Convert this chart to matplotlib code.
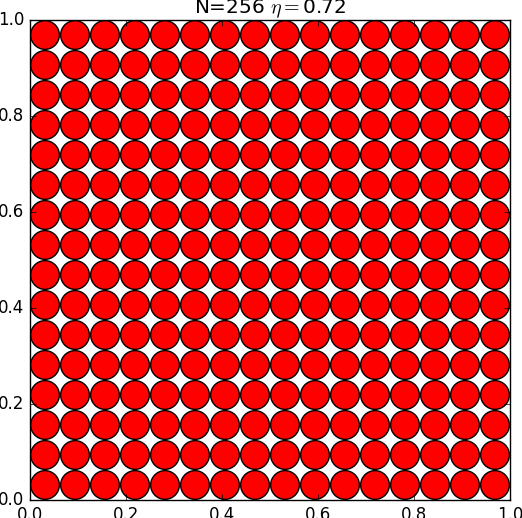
import numpy as np
import matplotlib
matplotlib.use("Agg")
import matplotlib.pyplot as plt
from matplotlib.patches import Circle

# system parameters
N = 256
eta = 0.72

# lattice centres along each axis (16 x 16 square lattice)
x_centres = [0.03125, 0.09375, 0.15625, 0.21875, 0.28125, 0.34375, 0.40625, 0.46875,
             0.53125, 0.59375, 0.65625, 0.71875, 0.78125, 0.84375, 0.90625, 0.96875]
y_centres = [0.03125, 0.09375, 0.15625, 0.21875, 0.28125, 0.34375, 0.40625, 0.46875,
             0.53125, 0.59375, 0.65625, 0.71875, 0.78125, 0.84375, 0.90625, 0.96875]

# disk radius from packing fraction
radius = np.sqrt(eta / (N * np.pi))

plt.style.use("classic")
fig = plt.figure(figsize=(5.22, 5.18), dpi=100)
ax = fig.add_axes([30 / 522, 18 / 518, 480 / 522, 480 / 518])

for y in y_centres:
    for x in x_centres:
        ax.add_patch(Circle((x, y), radius, facecolor="red", edgecolor="black", linewidth=1.0))

ax.set_xlim(0, 1)
ax.set_ylim(0, 1)
ax.set_xticks([0.0, 0.2, 0.4, 0.6, 0.8, 1.0])
ax.set_yticks([0.0, 0.2, 0.4, 0.6, 0.8, 1.0])
ax.set_title(r"N=%d $\eta=$%.2f" % (N, eta))

fig.savefig("out.png", dpi=100)
